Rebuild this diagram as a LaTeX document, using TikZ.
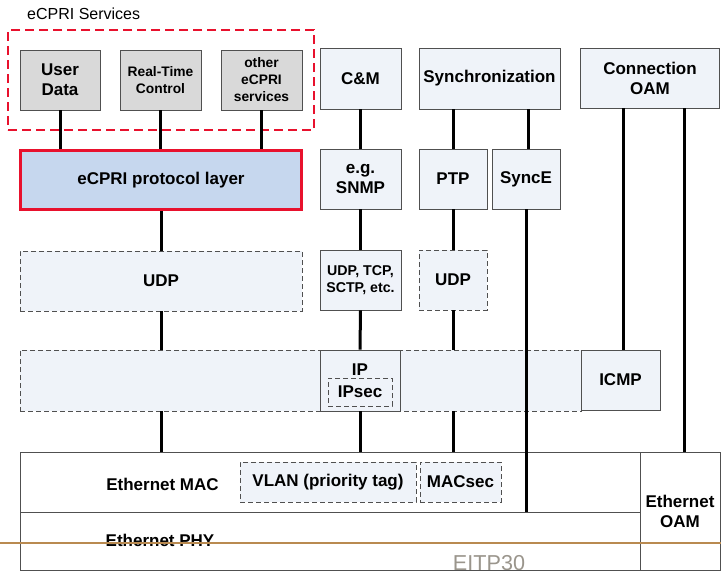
\documentclass[tikz,border=0pt]{standalone}
\usepackage{fontspec}
\setmainfont{Liberation Sans}
\definecolor{edge}{HTML}{505050}
\definecolor{lite}{HTML}{EFF3F9}
\definecolor{grayfill}{HTML}{D9D9D9}
\definecolor{protofill}{HTML}{C6D7EE}
\definecolor{ecprired}{HTML}{E8112D}
\definecolor{rule}{HTML}{B98A50}
\definecolor{wm}{HTML}{9A958C}
\tikzset{
  base/.style={rectangle, inner sep=0pt, align=center, draw=edge, line width=0.9pt,
    font=\fontsize{17}{20}\selectfont\bfseries},
  solidbox/.style={base, fill=lite},
  graybox/.style={base, fill=grayfill},
  dashbox/.style={base, fill=lite, dash pattern=on 5pt off 3pt},
  whitebox/.style={base, fill=white},
  small/.style={font=\fontsize{13.8}{17}\selectfont\bfseries},
  link/.style={line width=3pt, black},
  lbl/.style={inner sep=0pt, font=\fontsize{17}{20}\selectfont\bfseries},
}
\begin{document}
\begin{tikzpicture}[x=1pt, y=-1pt]
\useasboundingbox (0,0) rectangle (721,571);
% services group
\node[anchor=west, inner sep=0pt, font=\fontsize{16}{19}\selectfont] (svc) at (27,14) {eCPRI Services};
\node[rectangle, inner sep=0pt, minimum width=306pt, minimum height=100pt, draw=ecprired, line width=1.5pt, dash pattern=on 9pt off 5pt] (grp) at (161,80) {};
\node[graybox, minimum width=80pt, minimum height=60pt] (ud) at (60,80) {User\\Data};
\node[graybox, small, minimum width=81pt, minimum height=60pt] (rtc) at (160.5,80) {Real-Time\\Control};
\node[graybox, small, minimum width=81pt, minimum height=60pt] (oth) at (261.5,80) {other\\eCPRI\\services};
% top row right
\node[solidbox, minimum width=81pt, minimum height=61pt] (cm) at (360.5,78.5) {C\&M};
\node[solidbox, minimum width=141pt, minimum height=61pt] (sync) at (489.5,78.5) {Synchronization};
\node[solidbox, minimum width=139pt, minimum height=60pt] (coam) at (650,78) {Connection\\OAM};
% second row
\node[base, fill=protofill, draw=ecprired, line width=3pt, minimum width=281pt, minimum height=59pt] (ecpri) at (161,180) {eCPRI protocol layer};
\node[solidbox, minimum width=81pt, minimum height=60pt] (snmp) at (360.5,179) {e.g.\\SNMP};
\node[solidbox, minimum width=68pt, minimum height=60pt] (ptp) at (453,179) {PTP};
\node[solidbox, minimum width=68pt, minimum height=60pt] (synce) at (526,179) {SyncE};
% third row
\node[dashbox, minimum width=282pt, minimum height=60pt] (udpa) at (161,281) {UDP};
\node[solidbox, minimum width=81pt, minimum height=60pt, font=\fontsize{14.2}{17}\selectfont\bfseries] (tcp) at (360.5,280) {UDP, TCP,\\SCTP, etc.};
\node[dashbox, minimum width=68pt, minimum height=60pt] (udpb) at (453,280) {UDP};
% IP layer
\node[dashbox, minimum width=561pt, minimum height=61pt] (iplayer) at (300.5,380.5) {};
\node[solidbox, minimum width=80pt, minimum height=61pt] (ip) at (360,380.5) {};
\node[lbl] (iptxt) at (360,370) {IP};
\node[dashbox, minimum width=64pt, minimum height=28pt] (ipsec) at (360,392) {IPsec};
\node[solidbox, minimum width=79pt, minimum height=60pt] (icmp) at (620.5,380) {ICMP};
% Ethernet
\node[whitebox, minimum width=620pt, minimum height=60pt] (mac) at (330,482) {};
\node[lbl] (mactxt) at (162.5,484) {Ethernet MAC};
\node[dashbox, minimum width=176pt, minimum height=40pt] (vlan) at (328,482) {VLAN (priority tag)};
\node[dashbox, minimum width=81pt, minimum height=40pt] (macsec) at (460.5,482) {MACsec};
\node[anchor=base, inner sep=0pt, text=wm, font=\fontsize{21.6}{24}\selectfont] (wmark) at (489,570) {EITP30};
\node[base, minimum width=620pt, minimum height=58pt] (phy) at (330,541) {};
\node[lbl] (phytxt) at (160,540) {Ethernet PHY};
\node[whitebox, minimum width=80pt, minimum height=118pt] (eoam) at (680,511) {Ethernet\\OAM};
% connectors
\draw[link] (ud.south) -- (ud.south |- ecpri.north);
\draw[link] (rtc.south) -- (rtc.south |- ecpri.north);
\draw[link] (oth.south) -- (oth.south |- ecpri.north);
\draw[link] (ecpri.south) -- (ecpri.south |- udpa.north);
\draw[link] (udpa.south) -- (udpa.south |- iplayer.north);
\draw[link] (udpa.south |- iplayer.south) -- (udpa.south |- mac.north);
\draw[link] (cm.south) -- (snmp.north);
\draw[link] (snmp.south) -- (tcp.north);
\draw[link] (tcp.south) -- (ip.north);
\draw[link] (ip.south) -- (ip.south |- mac.north);
\draw[link] (ptp.north |- sync.south) -- (ptp.north);
\draw[link] (ptp.south) -- (udpb.north);
\draw[link] (udpb.south) -- (udpb.south |- iplayer.north);
\draw[link] (udpb.south |- iplayer.south) -- (udpb.south |- mac.north);
\draw[link] ([xshift=2pt]synce.north |- sync.south) -- ([xshift=2pt]synce.north);
\draw[link] (synce.south) -- (synce.south |- mac.south);
\draw[link] ([xshift=2.5pt]icmp.north |- coam.south) -- ([xshift=2.5pt]icmp.north);
\draw[link] ([xshift=4pt]eoam.north |- coam.south) -- ([xshift=4pt]eoam.north);
% horizontal rule
\coordinate (rl) at (0,543);
\coordinate (rr) at (721,543);
\draw[rule, line width=1.2pt] (rl) -- (rr);
\end{tikzpicture}
\end{document}
